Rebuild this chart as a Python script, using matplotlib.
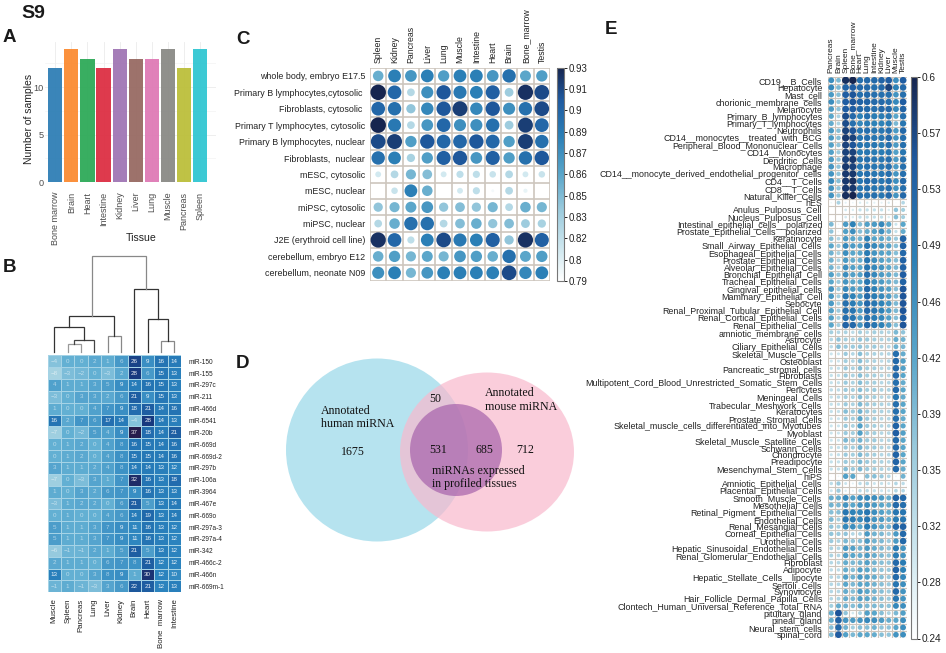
import numpy as np
from matplotlib import pyplot as plt
from matplotlib.cm import ScalarMappable
from matplotlib.colors import LinearSegmentedColormap, Normalize
from matplotlib.patches import Ellipse

plt.rcParams['font.family'] = ['Liberation Sans', 'DejaVu Sans']

W, H = 946, 653

# panel A
tissues = ['Bone marrow', 'Brain', 'Heart', 'Intestine', 'Kidney', 'Liver', 'Lung', 'Muscle', 'Pancreas', 'Spleen']
samples = [12, 14, 13, 12, 14, 13, 13, 14, 12, 14]
bar_colors = ['#2f7fb5', '#fb8b32', '#2eaa58', '#dd2f43', '#a076b4', '#986a63', '#df7ab5', '#8a8a86', '#bcbf3b', '#31c6d2']

# panel B
b_cols = ['Muscle', 'Spleen', 'Pancreas', 'Lung', 'Liver', 'Kidney', 'Brain', 'Heart', 'Bone  marrow', 'Intestine']
b_rows = ['miR-150', 'miR-155', 'miR-297c', 'miR-211', 'miR-466d', 'miR-6541', 'miR-20b', 'miR-669d', 'miR-669d-2',
          'miR-297b', 'miR-106a', 'miR-3964', 'miR-467e', 'miR-669o', 'miR-297a-3', 'miR-297a-4', 'miR-342',
          'miR-466c-2', 'miR-466n', 'miR-669m-1']
b_vals = [[-4, 0, 0, 2, 1, 6, 26, 9, 16, 14],
          [-8, -3, -2, 0, -3, 2, 28, 6, 15, 13],
          [4, 1, 1, 3, 5, 9, 14, 16, 15, 13],
          [-3, 0, 3, 3, 2, 6, 21, 9, 15, 13],
          [1, 0, 0, 4, 7, 9, 18, 21, 14, 16],
          [16, 2, 7, 6, 17, 14, -4, 28, 14, 13],
          [-7, 0, -2, 5, 4, 9, 37, 18, 14, 21],
          [0, 1, 2, 0, 4, 8, 16, 15, 14, 16],
          [0, 1, 2, 0, 4, 8, 15, 15, 14, 16],
          [3, 1, 1, 2, 4, 8, 14, 14, 13, 12],
          [-7, 0, -3, 3, 1, 7, 32, 16, 13, 18],
          [1, 0, 3, 2, 6, 7, 9, 16, 13, 13],
          [-3, 1, 2, 2, 0, 6, 21, 5, 13, 14],
          [0, 1, 0, 0, 4, 6, 14, 19, 13, 14],
          [5, 1, 1, 3, 7, 9, 11, 16, 13, 12],
          [5, 1, 1, 3, 7, 9, 11, 16, 13, 12],
          [-6, -1, -1, 2, 1, 5, 21, 5, 13, 12],
          [2, 1, 1, 0, 6, 7, 8, 21, 12, 12],
          [13, 0, 0, 3, 8, 9, 1, 30, 12, 10],
          [-1, 1, -1, -3, 3, 6, 22, 21, 12, 13]]
# dendrogram merges: child a, child b, height, colour
b_merges = [(1, 2, 22, '#999999'),
            (10, 3, 34, '#444444'),
            (0, 11, 74, '#333333'),
            (4, 5, 47, '#888888'),
            (12, 13, 107, '#333333'),
            (8, 9, 31, '#888888'),
            (7, 15, 97, '#333333'),
            (6, 16, 187, '#333333'),
            (14, 17, 288, '#888888')]

# panel C
c_cols = ['Spleen', 'Kidney', 'Pancreas', 'Liver', 'Lung', 'Muscle', 'Intestine', 'Heart', 'Brain', 'Bone_marrow', 'Testis']
c_rows = ['whole body, embryo E17.5', 'Primary B lymphocytes,cytosolic ', 'Fibroblasts, cytosolic ',
          'Primary T lymphocytes, cytosolic', 'Primary B lymphocytes, nuclear', 'Fibroblasts,  nuclear',
          'mESC, cytosolic', 'mESC, nuclear', 'miPSC, cytosolic', 'miPSC, nuclear', 'J2E (erythroid cell line)',
          'cerebellum, embryo E12', 'cerebellum, neonate N09']
c_vals = [[.855, .885, .870, .885, .865, .885, .885, .870, .895, .860, .865],
          [.930, .900, .825, .875, .910, .890, .885, .905, .835, .925, .915],
          [.900, .895, .840, .880, .910, .920, .880, .910, .875, .895, .915],
          [.930, .890, .825, .870, .900, .875, .875, .895, .835, .920, .900],
          [.915, .920, .865, .910, .900, .900, .910, .900, .865, .920, .895],
          [.895, .885, .830, .865, .905, .910, .870, .905, .865, .895, .910],
          [.810, .825, .850, .845, .810, .820, .820, .815, .825, .810, .815],
          [.790, .815, .885, .855, .790, .810, .820, .795, .825, .800, .790],
          [.840, .850, .860, .870, .840, .845, .840, .850, .825, .855, .850],
          [.825, .855, .895, .895, .825, .845, .855, .840, .845, .835, .830],
          [.925, .900, .820, .885, .915, .890, .885, .905, .840, .925, .905],
          [.855, .865, .850, .860, .850, .870, .865, .855, .895, .860, .865],
          [.875, .885, .850, .870, .885, .885, .885, .885, .915, .880, .885]]
c_ticks = [.79, .804, .818, .832, .846, .86, .874, .888, .902, .916, .93]
c_ticklabels = ['0.79', '0.8', '0.82', '0.83', '0.85', '0.86', '0.87', '0.89', '0.9', '0.91', '0.93']

# panel D
venn_counts = ['1675', '50', '531', '685', '712']

# panel E
e_cols = ['Pancreas', 'Brain', 'Spleen', 'Bone_marrow', 'Heart', 'Lung', 'Intestine', 'Kidney', 'Liver', 'Muscle', 'Testis']
e_rows = ['CD19__B_Cells', 'Hepatocyte', 'Mast_cell', 'chorionic_membrane_cells', 'Melanocyte', 'Primary_B_lymphocytes',
          'Primary_T_lymphocytes', 'Neutrophils', 'CD14__monocytes__treated_with_BCG',
          'Peripheral_Blood_Mononuclear_Cells', 'CD14__Monocytes', 'Dendritic_Cells', 'Macrophage',
          'CD14__monocyte_derived_endothelial_progenitor_cells', 'CD4__T_Cells', 'CD8__T_Cells', 'Natural_Killer_Cells',
          'hES', 'Anulus_Pulposus_Cell', 'Nucleus_Pulposus_Cell', 'Intestinal_epithelial_cells__polarized',
          'Prostate_Epithelial_Cells__polarized', 'Keratinocyte', 'Small_Airway_Epithelial_Cells',
          'Esophageal_Epithelial_Cells', 'Prostate_Epithelial_Cells', 'Alveolar_Epithelial_Cells',
          'Bronchial_Epithelial_Cell', 'Tracheal_Epithelial_Cells', 'Gingival_epithelial_cells',
          'Mammary_Epithelial_Cell', 'Sebocyte', 'Renal_Proximal_Tubular_Epithelial_Cell',
          'Renal_Cortical_Epithelial_Cells', 'Renal_Epithelial_Cells', 'amniotic_membrane_cells', 'Astrocyte',
          'Ciliary_Epithelial_Cells', 'Skeletal_Muscle_Cells', 'Osteoblast', 'Pancreatic_stromal_cells', 'Fibroblasts',
          'Multipotent_Cord_Blood_Unrestricted_Somatic_Stem_Cells', 'Pericytes', 'Meningeal_Cells',
          'Trabecular_Meshwork_Cells', 'Keratocytes', 'Prostate_Stromal_Cells',
          'Skeletal_muscle_cells_differentiated_into_Myotubes', 'Myoblast', 'Skeletal_Muscle_Satellite_Cells',
          'Schwann_Cells', 'Chondrocyte', 'Preadipocyte', 'Mesenchymal_Stem_Cells', 'hiPS', 'Amniotic_Epithelial_Cells',
          'Placental_Epithelial_Cells', 'Smooth_Muscle_Cells', 'Mesothelial_Cells', 'Retinal_Pigment_Epithelial_Cells',
          'Endothelial_Cells', 'Renal_Mesangial_Cells', 'Corneal_Epithelial_Cells', 'Urothelial_Cells',
          'Hepatic_Sinusoidal_Endothelial_Cells', 'Renal_Glomerular_Endothelial_Cells', 'Fibroblast', 'Adipocyte',
          'Hepatic_Stellate_Cells__lipocyte', 'Sertoli_Cells', 'Synoviocyte', 'Hair_Follicle_Dermal_Papilla_Cells',
          'Clontech_Human_Universal_Reference_Total_RNA', 'pituitary_gland', 'pineal_gland', 'Neural_stem_cells',
          'spinal_cord']
# hundredths, one row per cell type
e_vals = [[46, 39, 59, 60, 51, 52, 52, 53, 54, 46, 54],
          [47, 39, 53, 54, 52, 52, 51, 52, 57, 48, 52],
          [44, 38, 54, 55, 51, 52, 51, 51, 51, 45, 51],
          [46, 37, 54, 55, 53, 53, 52, 52, 51, 47, 54],
          [44, 37, 54, 54, 52, 52, 51, 52, 52, 47, 53],
          [42, 34, 56, 52, 48, 51, 49, 49, 50, 42, 51],
          [41, 34, 56, 51, 47, 49, 48, 48, 49, 39, 50],
          [44, 38, 57, 55, 50, 51, 50, 50, 51, 44, 52],
          [44, 38, 58, 57, 50, 51, 50, 50, 52, 45, 51],
          [43, 37, 57, 55, 50, 50, 50, 49, 51, 44, 51],
          [43, 36, 57, 57, 49, 50, 49, 49, 50, 43, 50],
          [44, 37, 57, 58, 50, 51, 50, 50, 51, 44, 51],
          [45, 37, 58, 57, 50, 51, 50, 50, 51, 44, 51],
          [45, 37, 58, 58, 50, 51, 50, 50, 51, 45, 51],
          [47, 38, 58, 59, 50, 52, 51, 50, 51, 46, 52],
          [45, 37, 58, 58, 50, 51, 50, 50, 51, 45, 51],
          [45, 37, 59, 60, 51, 51, 51, 50, 52, 45, 52],
          [26, 34, 27, 26, 28, 28, 27, 27, 28, 25, 33],
          [24, 24, 29, 28, 31, 31, 31, 31, 28, 37, 35],
          [24, 24, 29, 28, 31, 31, 31, 31, 28, 38, 35],
          [39, 26, 44, 48, 38, 43, 44, 47, 42, 30, 42],
          [37, 26, 43, 46, 38, 41, 43, 46, 40, 31, 41],
          [38, 33, 44, 42, 40, 48, 42, 42, 40, 36, 53],
          [42, 36, 47, 44, 43, 50, 47, 45, 43, 38, 53],
          [40, 35, 46, 42, 42, 49, 45, 43, 42, 38, 52],
          [40, 34, 44, 41, 41, 50, 46, 43, 41, 38, 53],
          [40, 34, 46, 43, 42, 50, 47, 45, 42, 39, 53],
          [43, 37, 46, 43, 43, 51, 47, 44, 42, 39, 54],
          [42, 36, 45, 42, 42, 50, 46, 44, 41, 39, 53],
          [45, 36, 47, 44, 43, 52, 48, 45, 43, 38, 55],
          [44, 35, 50, 48, 44, 52, 49, 47, 44, 39, 55],
          [44, 35, 51, 49, 45, 52, 50, 48, 45, 39, 55],
          [43, 36, 51, 50, 44, 52, 50, 48, 44, 39, 55],
          [43, 35, 51, 50, 44, 51, 49, 47, 43, 38, 54],
          [42, 35, 53, 52, 45, 52, 50, 48, 44, 38, 55],
          [35, 33, 34, 32, 35, 33, 35, 34, 33, 39, 37],
          [33, 37, 35, 34, 37, 36, 35, 34, 34, 41, 40],
          [32, 38, 36, 36, 37, 35, 36, 34, 33, 40, 39],
          [30, 30, 36, 33, 38, 34, 34, 33, 33, 51, 41],
          [30, 30, 35, 33, 38, 34, 34, 32, 33, 52, 43],
          [31, 31, 36, 34, 38, 35, 35, 33, 33, 52, 43],
          [31, 31, 36, 34, 38, 35, 35, 33, 33, 52, 42],
          [31, 31, 36, 34, 38, 35, 35, 33, 33, 51, 41],
          [32, 32, 36, 35, 38, 35, 36, 34, 34, 52, 42],
          [31, 32, 35, 34, 38, 35, 35, 33, 33, 50, 41],
          [31, 31, 36, 34, 39, 36, 35, 34, 33, 51, 42],
          [31, 31, 38, 36, 40, 36, 35, 34, 33, 51, 42],
          [30, 30, 36, 35, 42, 36, 35, 33, 33, 51, 41],
          [30, 30, 36, 34, 43, 36, 35, 33, 33, 53, 42],
          [30, 30, 36, 35, 43, 36, 35, 33, 33, 54, 43],
          [30, 30, 39, 37, 40, 36, 36, 33, 33, 52, 42],
          [31, 31, 36, 35, 40, 36, 36, 34, 33, 52, 42],
          [30, 31, 36, 35, 39, 36, 35, 33, 33, 53, 42],
          [31, 31, 36, 35, 39, 36, 35, 34, 33, 53, 42],
          [31, 31, 38, 36, 39, 36, 35, 34, 33, 52, 41],
          [25, 26, 43, 42, 25, 38, 38, 36, 33, 26, 40],
          [32, 36, 30, 27, 32, 33, 30, 31, 30, 33, 32],
          [30, 36, 28, 27, 32, 32, 31, 30, 30, 33, 33],
          [41, 41, 47, 43, 46, 47, 46, 44, 41, 53, 52],
          [40, 39, 45, 42, 45, 46, 44, 42, 41, 52, 51],
          [38, 38, 50, 48, 47, 50, 46, 43, 41, 50, 50],
          [39, 35, 50, 49, 47, 50, 45, 44, 41, 49, 50],
          [37, 35, 47, 46, 42, 49, 45, 42, 40, 52, 53],
          [37, 36, 37, 33, 34, 44, 40, 39, 36, 44, 52],
          [36, 34, 39, 37, 38, 44, 40, 39, 36, 44, 52],
          [34, 33, 44, 43, 40, 44, 41, 39, 37, 49, 45],
          [34, 33, 44, 42, 41, 44, 41, 39, 37, 49, 45],
          [33, 33, 41, 39, 40, 43, 40, 38, 37, 52, 49],
          [32, 32, 41, 38, 43, 42, 39, 37, 36, 53, 48],
          [33, 33, 43, 40, 44, 43, 41, 38, 36, 52, 47],
          [33, 33, 42, 39, 42, 42, 40, 38, 36, 50, 46],
          [33, 33, 41, 38, 44, 42, 40, 38, 36, 52, 45],
          [33, 34, 41, 39, 43, 42, 40, 38, 36, 50, 45],
          [35, 41, 40, 38, 41, 39, 39, 38, 37, 47, 46],
          [41, 55, 37, 29, 34, 43, 42, 38, 34, 39, 43],
          [41, 53, 45, 44, 45, 47, 46, 44, 41, 42, 46],
          [38, 52, 40, 35, 38, 38, 40, 37, 37, 42, 46],
          [39, 54, 43, 39, 42, 42, 41, 38, 37, 45, 46]]
e_ticks = [.24, .276, .312, .348, .384, .42, .456, .492, .528, .564, .60]
e_ticklabels = ['0.24', '0.28', '0.32', '0.35', '0.39', '0.42', '0.46', '0.49', '0.53', '0.57', '0.6']

heat_cmap = LinearSegmentedColormap.from_list('heat', [(0, '#a6d3e2'), (.18, '#62afd3'), (.45, '#2a82bd'),
                                                       (.6, '#2068ab'), (.8, '#17397f'), (1, '#261c4c')])
dot_cmap = LinearSegmentedColormap.from_list('dots', [(0, '#ffffff'), (.12, '#d8ecf2'), (.33, '#9ccbdd'),
                                                      (.5, '#5aa6ca'), (.68, '#2b7fb6'), (.85, '#1f5aa0'),
                                                      (1, '#16254f')])


def px_axes(fig, x0, y0, x1, y1):
    # axes given in pixels from the top left corner
    return fig.add_axes([x0 / W, 1 - y1 / H, (x1 - x0) / W, (y1 - y0) / H])


def corrplot(ax, vals, vmin, vmax, max_diam, line_w):
    vals = np.array(vals, dtype=float)
    rows, cols = vals.shape
    yy, xx = np.mgrid[0:rows, 0:cols]
    norm = Normalize(vmin, vmax)
    diam = max_diam * np.sqrt(norm(vals.ravel()))
    ax.scatter(xx.ravel(), yy.ravel(), c=vals.ravel(), cmap=dot_cmap, norm=norm, s=(diam * 0.72) ** 2, linewidths=0, zorder=3)
    ax.hlines(np.arange(rows + 1) - .5, -.5, cols - .5, color='#cdc6be', lw=line_w, zorder=2)
    ax.vlines(np.arange(cols + 1) - .5, -.5, rows - .5, color='#cdc6be', lw=line_w, zorder=2)
    ax.set_xlim(-.5, cols - .5)
    ax.set_ylim(rows - .5, -.5)
    ax.xaxis.tick_top()
    for s in ax.spines.values():
        s.set_visible(False)


def dot_colorbar(fig, cax, vmin, vmax, ticks, labels, size):
    cb = fig.colorbar(ScalarMappable(Normalize(vmin, vmax), dot_cmap), cax=cax)
    cb.set_ticks(ticks)
    cb.set_ticklabels(labels)
    cb.ax.tick_params(length=2, width=.7, labelsize=size, pad=1.5, colors='#222222')
    cb.outline.set_linewidth(.8)
    cb.outline.set_edgecolor('#777777')


fig = plt.figure(figsize=(W / 100, H / 100), dpi=100)

# A: bar chart
ax = px_axes(fig, 45, 42, 216, 182)
ax.bar(range(len(tissues)), samples, width=.88, color=bar_colors, alpha=.95, zorder=3)
ax.set_xlim(-.64, 10)
ax.set_ylim(0, 14.74)
ax.set_yticks([0, 5, 10])
ax.set_yticks([2.5, 7.5, 12.5], minor=True)
ax.set_xticks(range(len(tissues)))
ax.set_xticklabels(tissues, rotation=90, fontsize=6.5, color='#4d4d4d')
ax.tick_params(axis='y', labelsize=6.6, labelcolor='#4d4d4d', length=0, pad=1)
ax.tick_params(axis='y', which='minor', length=0)
ax.tick_params(axis='x', length=0, pad=7)
ax.grid(True, which='major', color='#ebebeb', lw=.6, zorder=0)
ax.grid(True, which='minor', color='#f0f0f0', lw=.4, zorder=0)
ax.set_axisbelow(True)
for s in ax.spines.values():
    s.set_visible(False)

# B: heatmap with dendrogram
ax = px_axes(fig, 47.7, 355.3, 181, 592.3)
ax.pcolormesh(np.array(b_vals), cmap=heat_cmap, vmin=-8, vmax=37, edgecolors='#a5d3e6', linewidth=.5)
ax.set_ylim(len(b_rows), 0)
for r, row in enumerate(b_vals):
    for c, v in enumerate(row):
        ax.text(c + .5, r + .5, str(v).replace('-', '\u2212'), ha='center', va='center', fontsize=4.5, color='white',
                alpha=.9 if v > 8 else .55)
ax.set_xticks(np.arange(10) + .5)
ax.set_xticklabels(b_cols, rotation=90, fontsize=5.7, color='#222222')
ax.set_yticks(np.arange(20) + .5)
ax.set_yticklabels(b_rows, fontsize=4.7, color='#222222')
ax.yaxis.tick_right()
ax.tick_params(axis='x', length=0, pad=4.5)
ax.tick_params(axis='y', length=0, pad=5.5)
for s in ax.spines.values():
    s.set_visible(False)

ax = px_axes(fig, 47.7, 255.7, 181, 351.7)
node_x = {i: i + .5 for i in range(10)}
node_h = {i: 0 for i in range(10)}
for i, (a, b, h, col) in enumerate(b_merges):
    ax.plot([node_x[a], node_x[a], node_x[b], node_x[b]], [node_h[a], h, h, node_h[b]], color=col, lw=.9,
            solid_joinstyle='miter', clip_on=False)
    node_x[10 + i] = (node_x[a] + node_x[b]) / 2
    node_h[10 + i] = h
ax.set_xlim(0, 10)
ax.set_ylim(0, 288)
ax.axis('off')

# C: correlation dots
ax = px_axes(fig, 370, 67.7, 550, 281)
corrplot(ax, c_vals, .79, .93, 15.5, 1.2)
ax.set_xticks(range(len(c_cols)))
ax.set_xticklabels(c_cols, rotation=90, fontsize=6.3, color='#222222')
ax.set_yticks(range(len(c_rows)))
ax.set_yticklabels(c_rows, fontsize=6.4, color='#222222')
ax.tick_params(length=0, pad=3.5)
cax = px_axes(fig, 557, 67.7, 564, 281)
dot_colorbar(fig, cax, .79, .93, c_ticks, c_ticklabels, 7)

# D: venn, also holds the loose labels
ax = px_axes(fig, 0, 0, W, H)
ax.set_xlim(0, W)
ax.set_ylim(H, 0)
ax.axis('off')
ax.patch.set_alpha(0)
ax.add_patch(Ellipse((377, 450), 182, 183, fc='#b6e3ef', ec='none'))
ax.add_patch(Ellipse((487, 452), 174, 159, fc='#f9b9cd', ec='none', alpha=.7))
ax.add_patch(Ellipse((456, 450), 92, 92, fc='#a662ab', ec='none', alpha=.7))
serif = dict(family=['Liberation Serif', 'DejaVu Serif'], fontsize=8.6, color='#111111')
ax.text(321, 417.5, 'Annotated\nhuman miRNA', ha='left', va='center', linespacing=1.15, **serif)
ax.text(485.3, 400, 'Annotated\nmouse miRNA', ha='left', va='center', linespacing=1.15, **serif)
ax.text(432, 477.5, 'miRNAs expressed\nin profiled tissues', ha='left', va='center', linespacing=1.15, **serif)
for label, (x, y) in zip(venn_counts, [(353, 451.7), (435.7, 399), (438, 450), (484, 450), (525, 450)]):
    ax.text(x, y, label, ha='center', va='center', **serif)

# axis titles of panel A
ax.text(140.7, 238, 'Tissue', ha='center', va='center', fontsize=7.6, color='#222222')
ax.text(29, 118.7, 'Number of samples', ha='center', va='center', rotation=90, fontsize=7.5, color='#222222')

# panel letters
for label, x, y, size in [('S9', 21, 13.5, 14), ('A', 3, 38, 13.5), ('B', 3, 267, 13.5), ('C', 236, 39, 13.5),
                          ('D', 236, 363, 13.5), ('E', 605, 29, 13.5)]:
    ax.text(x, y, label, ha='left', va='center', fontsize=size, fontweight='bold', color='#1a1a1a')

# E: correlation dots, many rows
ax = px_axes(fig, 827.7, 76.7, 906.7, 638.3)
corrplot(ax, np.array(e_vals) / 100, .24, .60, 7.4, .8)
ax.set_xticks(range(len(e_cols)))
ax.set_xticklabels(e_cols, rotation=90, fontsize=6.0, color='#222222')
ax.set_yticks(range(len(e_rows)))
ax.set_yticklabels(e_rows, fontsize=6.4, color='#222222')
ax.tick_params(length=0, pad=4)
ax.tick_params(axis='x', pad=3)
cax = px_axes(fig, 911, 77, 917, 638.5)
dot_colorbar(fig, cax, .24, .60, e_ticks, e_ticklabels, 7.3)

fig.savefig('out.png', dpi=100)
